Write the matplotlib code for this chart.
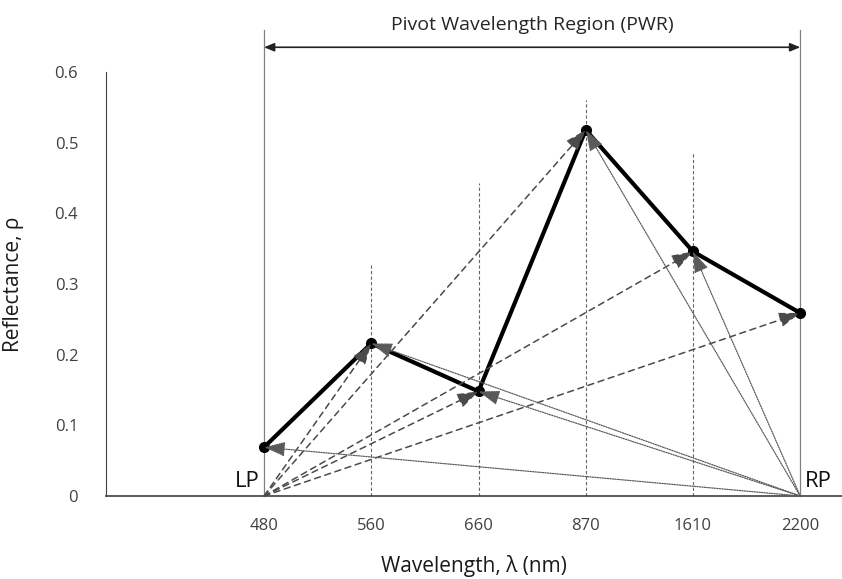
import numpy as np
import matplotlib.pyplot as plt

# band centres (nm) and reflectance at each band
wavelengths = ['480', '560', '660', '870', '1610', '2200']
reflectance = [0.069, 0.216, 0.148, 0.518, 0.346, 0.259]
# heights of the dashed guide lines above the inner bands
guide_tops = [0.327, 0.443, 0.56, 0.485]
pwr_top = 0.659
pwr_arrow_y = 0.635

plt.rcParams['font.family'] = ['Open Sans', 'DejaVu Sans']

fig = plt.figure(figsize=(8.42, 5.79), dpi=100)
ax = fig.add_axes([106 / 842, 83 / 579, 736 / 842, 424 / 579])

x = np.arange(len(wavelengths))
lp, rp = x[0], x[-1]

# guide lines for the inner bands
for xi, top in zip(x[1:-1], guide_tops):
    ax.plot([xi, xi], [0, top], color='#666666', lw=0.8, ls=(0, (3, 2)), zorder=1)

# edges of the pivot wavelength region
for xi in (lp, rp):
    ax.plot([xi, xi], [0, pwr_top], color='#808080', lw=0.9, clip_on=False, zorder=1)

ax.annotate('', xy=(rp, pwr_arrow_y), xytext=(lp, pwr_arrow_y),
            arrowprops=dict(arrowstyle='<|-|>,head_length=0.6,head_width=0.25',
                            color='#222222', lw=1.2, shrinkA=0, shrinkB=0),
            annotation_clip=False)
ax.text((lp + rp) / 2, 0.667, 'Pivot Wavelength Region (PWR)', ha='center', va='center',
        fontsize=14, color='#262626', clip_on=False)

# main reflectance curve
ax.plot(x, reflectance, color='black', lw=3, marker='o', ms=7, zorder=3)

head = '-|>,head_length=1.3,head_width=0.45'
# left pivot to every other band (dashed)
for xi, yi in zip(x[1:], reflectance[1:]):
    ax.annotate('', xy=(xi, yi), xytext=(lp, 0),
                arrowprops=dict(arrowstyle=head, color='#4a4a4a', lw=1.1,
                                ls=(0, (4, 3)), shrinkA=0, shrinkB=0),
                zorder=4)
# right pivot to every other band (dotted)
for xi, yi in zip(x[:-1], reflectance[:-1]):
    ax.annotate('', xy=(xi, yi), xytext=(rp, 0),
                arrowprops=dict(arrowstyle=head, color='#5a5a5a', lw=0.9,
                                ls=(0, (1, 1)), shrinkA=0, shrinkB=0),
                zorder=4)

ax.text(lp - 0.04, 0.005, 'LP', ha='right', va='bottom', fontsize=16, color='#111111')
ax.text(rp + 0.04, 0.005, 'RP', ha='left', va='bottom', fontsize=16, color='#111111')

ax.set_xlim(-1.474, 5.39)
ax.set_ylim(0, 0.6)
ax.set_xticks(x)
ax.set_xticklabels(wavelengths)
ax.set_yticks([0, 0.1, 0.2, 0.3, 0.4, 0.5, 0.6])
ax.set_yticklabels(['0', '0.1', '0.2', '0.3', '0.4', '0.5', '0.6'])
ax.tick_params(length=0, labelsize=12, colors='#404040')
ax.tick_params(axis='x', pad=16)
ax.tick_params(axis='y', pad=20)
for s in ('top', 'right'):
    ax.spines[s].set_visible(False)
ax.spines['left'].set_color('#404040')
ax.spines['bottom'].set_color('#404040')
ax.spines['bottom'].set_linewidth(1.2)

ax.set_xlabel('Wavelength, λ (nm)', fontsize=15, color='#1a1a1a', labelpad=15)
ax.set_ylabel('Reflectance, ρ', fontsize=15, color='#1a1a1a', labelpad=22)

fig.savefig('out.png', dpi=100)
